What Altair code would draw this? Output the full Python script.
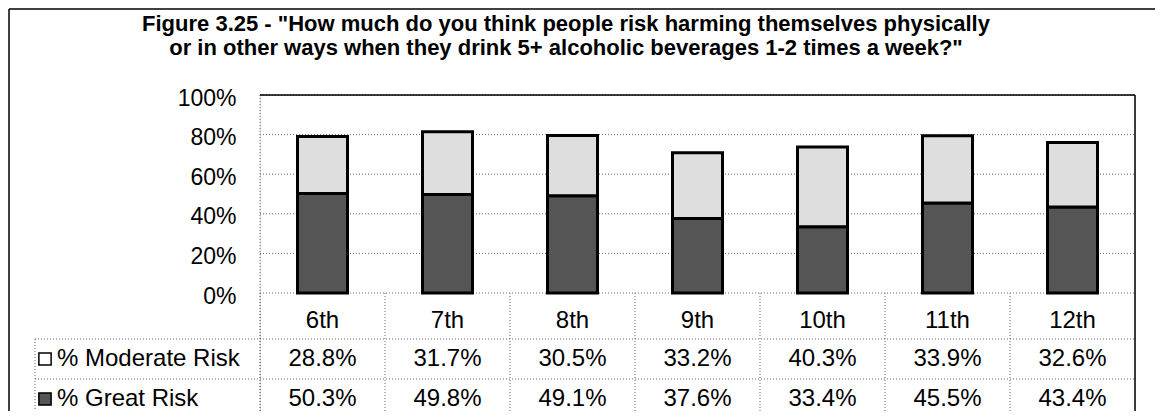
import altair as alt
import pandas as pd

grades = ["6th", "7th", "8th", "9th", "10th", "11th", "12th"]
moderate = [28.8, 31.7, 30.5, 33.2, 40.3, 33.9, 32.6]
great = [50.3, 49.8, 49.1, 37.6, 33.4, 45.5, 43.4]
series_names = ["% Moderate Risk", "% Great Risk"]
y_ticks = [0, 0.2, 0.4, 0.6, 0.8, 1.0]
title_lines = [
    'Figure 3.25 - "How much do you think people risk harming themselves physically',
    'or in other ways when they drink 5+ alcoholic beverages 1-2 times a week?"',
]

FONT = "Liberation Sans"
W = 875
H = 316
Y0 = 198          # pixel of 0%
YMIN = -(H - Y0) / Y0
DARK = "#555555"
LIGHT = "#dedede"
GRID = "#6a6a6a"

rows = []
for g, m, gr in zip(grades, moderate, great):
    rows.append({"grade": g, "series": series_names[1], "start": 0.0, "end": gr / 100,
                 "label": f"{gr:.1f}%"})
    rows.append({"grade": g, "series": series_names[0], "start": gr / 100,
                 "end": (gr + m) / 100, "label": f"{m:.1f}%"})
df = pd.DataFrame(rows)
gdf = pd.DataFrame({"grade": grades})

xscale = alt.Scale(domain=grades, paddingInner=0, paddingOuter=0)
yscale = alt.Scale(domain=[YMIN, 1.0], nice=False, zero=False)

x_enc = alt.X("grade:N", scale=xscale, axis=None, sort=grades)

base = alt.Chart(df)

axis_layer = alt.Chart(pd.DataFrame({"v": y_ticks})).mark_rule(
    color=GRID, strokeDash=[1, 2], strokeWidth=1
).encode(
    y=alt.Y("v:Q", scale=yscale,
            axis=alt.Axis(values=y_ticks, format=".0%", labelFont=FONT, labelFontSize=23,
                          labelColor="black", ticks=False, domain=False, grid=False,
                          labelPadding=24, title=None, labelOffset=3)),
    x=alt.value(0), x2=alt.value(W),
)

bars = base.mark_bar(size=50, stroke="black", strokeWidth=3).encode(
    x=x_enc,
    y=alt.Y("start:Q", scale=yscale),
    y2="end:Q",
    fill=alt.Fill("series:N", scale=alt.Scale(domain=series_names, range=[LIGHT, DARK]),
                  legend=None),
)

one = pd.DataFrame({"v": [1.0]})
top_line = alt.Chart(one).mark_rule(color="black", strokeWidth=1.5).encode(
    y=alt.Y("v:Q", scale=yscale), x=alt.value(0), x2=alt.value(W))
right_line = alt.Chart(one).mark_rule(color="black", strokeWidth=1.5).encode(
    x=alt.value(W), y=alt.value(0), y2=alt.value(H))
left_line = alt.Chart(one).mark_rule(color=GRID, strokeDash=[1, 2]).encode(
    x=alt.value(0), y=alt.value(0), y2=alt.value(H))

col_lines = alt.Chart(gdf).mark_rule(color=GRID, strokeDash=[1, 2]).encode(
    x=alt.X("grade:N", scale=xscale, axis=None, sort=grades, bandPosition=0),
    y=alt.value(Y0), y2=alt.value(H))

hlines = alt.Chart(pd.DataFrame({"yy": [244, 284]})).mark_rule(color=GRID, strokeDash=[1, 2]).encode(
    x=alt.value(-225), x2=alt.value(W), y=alt.Y("yy:Q", scale=None))
label_border = alt.Chart(one).mark_rule(color=GRID, strokeDash=[1, 2]).encode(
    x=alt.value(-225), y=alt.value(244), y2=alt.value(H))

frame_left = alt.Chart(one).mark_rule(color="black", strokeWidth=1.5).encode(
    x=alt.value(-251), y=alt.value(-86), y2=alt.value(H))
frame_top = alt.Chart(one).mark_rule(color="black", strokeWidth=1.5).encode(
    x=alt.value(-251), x2=alt.value(W + 24), y=alt.value(-86))

title_df = pd.DataFrame({"line": title_lines, "yy": [-71, -47]})
title = alt.Chart(title_df).mark_text(font=FONT, fontSize=22, fontWeight="bold", color="black",
                                      align="center", baseline="middle").encode(
    x=alt.value(306), y=alt.Y("yy:Q", scale=None), text="line:N")

header = alt.Chart(gdf).mark_text(font=FONT, fontSize=24, color="black", baseline="middle").encode(
    x=x_enc, text="grade:N", y=alt.value(226))

val_mod = base.transform_filter(alt.datum.series == series_names[0]).mark_text(
    font=FONT, fontSize=24, color="black", baseline="middle").encode(
    x=x_enc, text="label:N", y=alt.value(264))
val_great = base.transform_filter(alt.datum.series == series_names[1]).mark_text(
    font=FONT, fontSize=24, color="black", baseline="middle").encode(
    x=x_enc, text="label:N", y=alt.value(304))

leg_df = pd.DataFrame({"series": series_names, "yy": [264, 304]})
leg_text = alt.Chart(leg_df).mark_text(font=FONT, fontSize=24, color="black", align="left",
                                        baseline="middle").encode(
    x=alt.value(-203), y=alt.Y("yy:Q", scale=None), text="series:N")
leg_sym = alt.Chart(leg_df).mark_point(shape="square", size=150, filled=True, stroke="black",
                                       strokeWidth=1.5, opacity=1).encode(
    x=alt.value(-215), y=alt.Y("yy:Q", scale=None),
    fill=alt.Fill("series:N", scale=alt.Scale(domain=series_names, range=["white", DARK]),
                  legend=None))

chart = alt.layer(
    axis_layer, left_line, col_lines, hlines, label_border, bars, top_line, right_line,
    frame_left, frame_top, title, header, val_mod, val_great, leg_text, leg_sym,
).resolve_scale(fill="independent").properties(
    width=W, height=H,
    autosize=alt.AutoSizeParams(type="none"),
    padding={"left": 252, "top": 87, "right": 20, "bottom": 0},
).configure_view(stroke=None).configure(background="white")

chart.save("out.html", embed_options={"renderer": "svg", "actions": False})
